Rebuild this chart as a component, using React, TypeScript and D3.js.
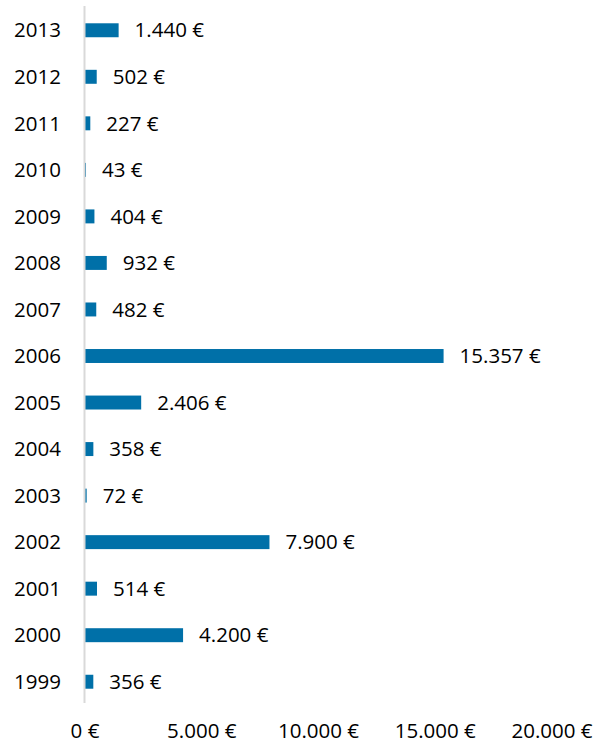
import React from "react";
import * as d3 from "d3";

const years = ["1999","2000","2001","2002","2003","2004","2005","2006","2007","2008","2009","2010","2011","2012","2013"];
const values = [356, 4200, 514, 7900, 72, 358, 2406, 15357, 482, 932, 404, 43, 227, 502, 1440];
const ticks = [0, 5000, 10000, 15000, 20000];

const fmt = (v: number) => d3.format(",")(v).replace(/,/g, ".") + " €";

export default function App() {
  const W = 606, H = 745;
  const x = d3.scaleLinear().domain([0, 20000]).range([85, 552]);
  const y = d3.scaleBand().domain([...years].reverse()).range([7, 705]).paddingInner(0.7).paddingOuter(0.35);
  const font = "'Open Sans', sans-serif";
  const fs = 20.5;
  return (
    <svg width={W} height={H} style={{ position: "absolute", left: 0, top: 0 }}>
      <rect width={W} height={H} fill="#fff" />
      {years.map((yr, i) => {
        const yy = y(yr)!;
        const cy = yy + y.bandwidth() / 2;
        return (
          <g key={yr}>
            <rect x={x(0)} y={yy} width={x(values[i]) - x(0)} height={y.bandwidth()} fill="#0070a8" />
            <text x={61} y={cy} dy="0.35em" textAnchor="end" fontFamily={font} fontSize={fs} fill="#000">{yr}</text>
            <text x={x(values[i]) + 16} y={cy} dy="0.35em" fontFamily={font} fontSize={fs} fill="#000">{fmt(values[i])}</text>
          </g>
        );
      })}
      <line x1={x(0) - 0.5} x2={x(0) - 0.5} y1={6} y2={703} stroke="#d9d9d9" strokeWidth={2} />
      {ticks.map(t => (
        <text key={t} x={x(t)} y={731} dy="0.35em" textAnchor="middle" fontFamily={font} fontSize={fs} fill="#000">{fmt(t)}</text>
      ))}
    </svg>
  );
}
